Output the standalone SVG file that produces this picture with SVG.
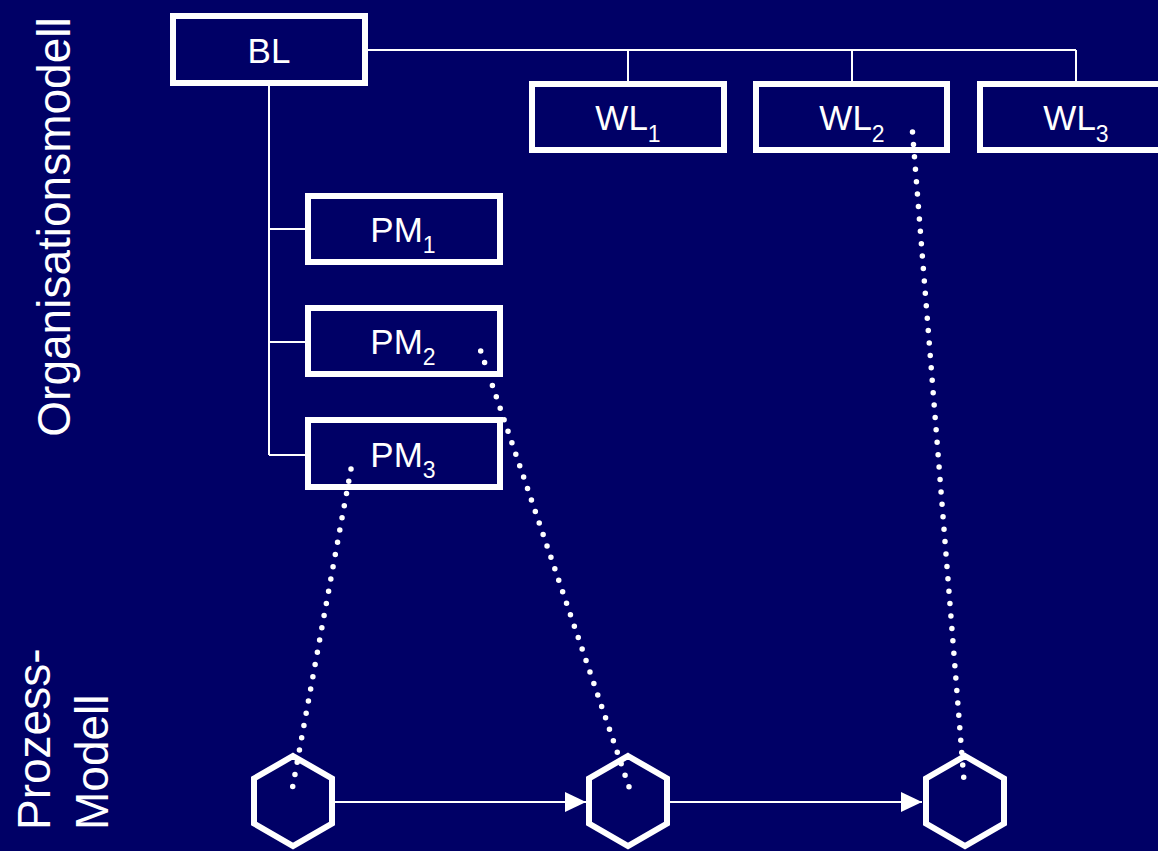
<svg xmlns="http://www.w3.org/2000/svg" width="1158" height="851" viewBox="0 0 1158 851">
  <defs>
    <style>
      .box { fill: #000066; stroke: #ffffff; stroke-width: 6; }
      .lbl { font-family: "Liberation Sans", Arial, sans-serif; font-size: 35px; fill: #ffffff; text-anchor: middle; }
      .sub { font-size: 23px; }
      .side { font-family: "Liberation Sans", Arial, sans-serif; font-size: 46px; fill: #ffffff; }
      .tree { stroke: #ffffff; stroke-width: 2; fill: none; }
      .flow { stroke: #ffffff; stroke-width: 2; fill: none; marker-end: url(#head); }
      .hex { fill: none; stroke: #ffffff; stroke-width: 6; stroke-linejoin: miter; }
      .dots { stroke: #ffffff; stroke-width: 5.5; stroke-linecap: round; fill: none; }
    </style>
    <marker id="head" markerUnits="userSpaceOnUse" markerWidth="22" markerHeight="22" refX="21" refY="10" orient="auto">
      <path d="M0,0 L21,10 L0,20 Z" fill="#ffffff"/>
    </marker>
  </defs>

  <rect width="1158" height="851" fill="#000066"/>

  <!-- side captions -->
  <text class="side" font-size="48" text-anchor="middle" transform="translate(70,227) rotate(-90)">Organisationsmodell</text>
  <text class="side" transform="translate(50,830) rotate(-90)">Prozess-</text>
  <text class="side" transform="translate(108,830) rotate(-90)">Modell</text>

  <!-- organisation tree lines and process flow -->
  <g id="connectors">
    <path class="tree" d="M368,50 H1076 M628,50 V81 M852,50 V81 M1076,50 V81"/>
    <path class="tree" d="M269,86 V455 M269,229 H305 M269,342 H305 M269,455 H305"/>
    <path class="flow" d="M333,802 H586"/>
    <path class="flow" d="M668,802 H922"/>
  </g>

  <g id="BL">
    <rect class="box" x="173" y="16" width="192" height="67"/>
    <text class="lbl" x="269" y="63">BL</text>
  </g>

  <g id="WL1">
    <rect class="box" x="532" y="84" width="192" height="66"/>
    <text class="lbl" x="628" y="130">WL<tspan class="sub" dy="12">1</tspan></text>
  </g>
  <g id="WL2">
    <rect class="box" x="756" y="84" width="191" height="66"/>
    <text class="lbl" x="852" y="130">WL<tspan class="sub" dy="12">2</tspan></text>
  </g>
  <g id="WL3">
    <rect class="box" x="980" y="84" width="192" height="66"/>
    <text class="lbl" x="1076" y="130">WL<tspan class="sub" dy="12">3</tspan></text>
  </g>

  <g id="PM1">
    <rect class="box" x="308" y="196" width="192" height="66"/>
    <text class="lbl" x="403" y="242">PM<tspan class="sub" dy="11">1</tspan></text>
  </g>
  <g id="PM2">
    <rect class="box" x="308" y="308" width="192" height="66"/>
    <text class="lbl" x="403" y="354">PM<tspan class="sub" dy="11">2</tspan></text>
  </g>
  <g id="PM3">
    <rect class="box" x="308" y="420" width="192" height="67"/>
    <text class="lbl" x="403" y="467">PM<tspan class="sub" dy="11">3</tspan></text>
  </g>

  <!-- process steps -->
  <g id="P1">
    <polygon class="hex" points="293,756 332,778.5 332,823.5 293,846 254,823.5 254,778.5"/>
  </g>
  <g id="P2">
    <polygon class="hex" points="628,756 667,778.5 667,823.5 628,846 589,823.5 589,778.5"/>
  </g>
  <g id="P3">
    <polygon class="hex" points="965,756 1004,778.5 1004,823.5 965,846 926,823.5 926,778.5"/>
  </g>

  <!-- dotted assignment links -->
  <g id="links">
    <line class="dots" x1="351" y1="469" x2="292.7" y2="786.7" stroke-dasharray="0 12.42"/>
    <line class="dots" x1="480.7" y1="351" x2="629" y2="786.7" stroke-dasharray="0 12.11"/>
    <line class="dots" x1="912.5" y1="132" x2="964.7" y2="789.7" stroke-dasharray="0 12.45"/>
  </g>
</svg>
